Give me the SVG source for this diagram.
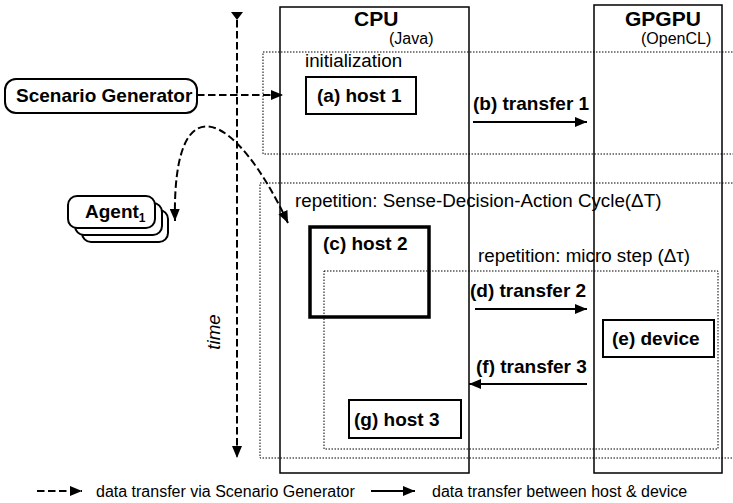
<svg xmlns="http://www.w3.org/2000/svg" width="733" height="503" viewBox="0 0 733 503">
<style>
text{font-family:"Liberation Sans",Arial,sans-serif;fill:#000}
.b{font-weight:bold;font-size:19px}
.r{font-size:18.8px}
.s{font-size:16px}
.lane{fill:none;stroke:#000;stroke-width:1.5}
.dot{fill:none;stroke:#000;stroke-width:1;stroke-dasharray:1.5 1.5}
.box{fill:#fff;stroke:#000;stroke-width:2}
.dash{fill:none;stroke:#000;stroke-width:2;stroke-dasharray:7.5 3.5}
.solid{fill:none;stroke:#000;stroke-width:2}
</style>
<defs>
<marker id="ah" viewBox="0 0 12 10" refX="12" refY="5" markerWidth="12" markerHeight="10" markerUnits="userSpaceOnUse" orient="auto-start-reverse">
<path d="M0,0 L12,5 L0,10 z" fill="#000"/>
</marker>
</defs>
<rect width="733" height="503" fill="#fff"/>

<g id="lanes">
<rect class="lane" x="280" y="7" width="189" height="466"/>
<rect class="lane" x="594" y="5" width="128" height="468"/>
<text class="b" x="354" y="26" style="font-size:21px">CPU</text>
<text class="s" x="389" y="44">(Java)</text>
<text class="b" x="625" y="26" style="font-size:21px">GPGPU</text>
<text class="s" x="641" y="44">(OpenCL)</text>
</g>

<g id="init-frame">
<rect class="dot" x="263" y="52" width="480" height="102"/>
<text class="r" x="305" y="67">initialization</text>
</g>
<g id="rep-frame">
<rect class="dot" x="260" y="183" width="490" height="275"/>
<text class="r" x="295" y="207">repetition: Sense-Decision-Action Cycle(ΔT)</text>
</g>

<g id="host2">
<rect x="310" y="227" width="119" height="90" fill="#fff" stroke="#000" stroke-width="3.5"/>
<text class="b" x="323" y="250">(c) host 2</text>
</g>

<g id="micro-frame">
<rect class="dot" x="324" y="271" width="394" height="178"/>
<text class="r" x="478" y="262">repetition: micro step (Δτ)</text>
</g>

<g id="host1">
<rect class="box" x="306" y="77" width="110" height="37"/>
<text class="b" x="317" y="102">(a) host 1</text>
</g>
<g id="host3">
<rect class="box" x="349" y="400" width="112" height="38"/>
<text class="b" x="354" y="426">(g) host 3</text>
</g>
<g id="device">
<rect class="box" x="603" y="320" width="111" height="37"/>
<text class="b" x="612" y="345">(e) device</text>
</g>

<g id="scenario-generator">
<rect class="box" x="5" y="79" width="192" height="34" rx="11"/>
<text class="b" x="16" y="102">Scenario Generator</text>
</g>

<g id="agent">
<rect class="box" x="82" y="210" width="86" height="32" rx="9"/>
<rect class="box" x="75" y="203" width="87" height="32" rx="9"/>
<rect class="box" x="68" y="196" width="87" height="32" rx="9"/>
<text class="b" x="85" y="218">Agent<tspan style="font-size:12px" dy="4">1</tspan></text>
</g>

<g id="connectors">
<path class="dash" d="M197,95 L283,95" marker-end="url(#ah)"/>
<path class="dash" d="M175,221 C172,80 235,110 288,223" marker-start="url(#ah)" marker-end="url(#ah)"/>
<path class="dash" d="M237,20 L237,458" marker-end="url(#ah)"/>
<path d="M231,12 L243,12 L237,20 z" fill="#000"/>
<path class="solid" d="M473,122 L587,122" marker-end="url(#ah)"/>
<text class="b" x="473" y="110">(b) transfer 1</text>
<path class="solid" d="M475,309 L587,309" marker-end="url(#ah)"/>
<text class="b" x="470" y="297">(d) transfer 2</text>
<path class="solid" d="M587,384 L469,384" marker-end="url(#ah)"/>
<text class="b" x="476" y="373">(f) transfer 3</text>
</g>

<g id="time-label">
<text class="r" x="220" y="332" text-anchor="middle" transform="rotate(-90 220 332)" font-style="italic">time</text>
</g>

<g id="legend">
<path class="dash" d="M37,491 L82,491" marker-end="url(#ah)"/>
<text class="s" x="96" y="497">data transfer via Scenario Generator</text>
<path class="solid" d="M371,491 L415,491" marker-end="url(#ah)"/>
<text class="s" x="432" y="497">data transfer between host &amp; device</text>
</g>
</svg>
